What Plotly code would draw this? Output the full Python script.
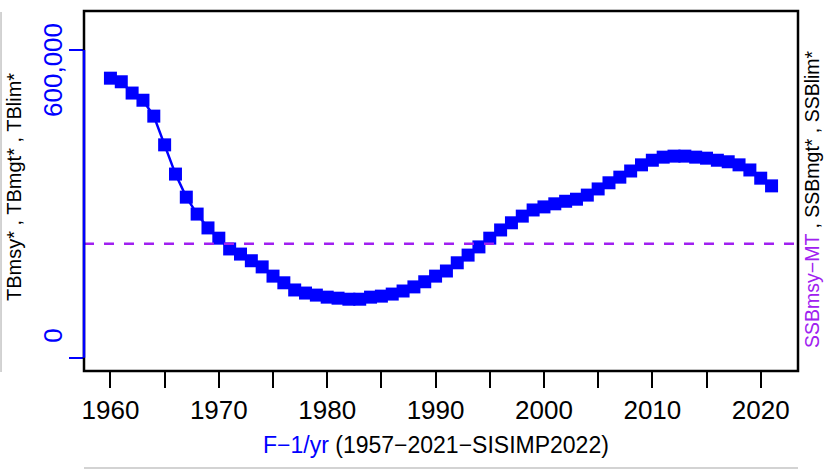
import plotly.graph_objects as go

years = list(range(1960, 2022))
biomass = [545000, 538000, 516000, 502000, 471000, 415000, 358000, 313000, 280000, 253000,
           233000, 212000, 202000, 189000, 177000, 159000, 146000, 132000, 126000, 122000,
           118000, 116000, 114000, 114000, 118000, 120000, 124000, 130000, 138000, 148000,
           159000, 169000, 185000, 200000, 216000, 233000, 249000, 263000, 276000, 288000,
           294000, 300000, 305000, 309000, 317000, 329000, 341000, 352000, 364000, 376000,
           385000, 391000, 393000, 393000, 391000, 389000, 385000, 382000, 376000, 366000,
           350000, 335000]
ref_level = 222000
x_tick_vals = list(range(1960, 2021, 5))
x_tick_text = [str(v) if v % 10 == 0 else "" for v in x_tick_vals]
y_tick_vals = [0, 600000]
y_tick_text = ["0", "600,000"]

FONT = "Liberation Sans, Arial, sans-serif"
BLUE = "#0000FF"
PURPLE = "#A020F0"

fig = go.Figure()
fig.add_trace(go.Scatter(
    x=years, y=biomass, mode="lines+markers",
    line=dict(color=BLUE, width=2.5),
    marker=dict(symbol="square", size=13, color=BLUE, line=dict(width=0)),
    showlegend=False, hoverinfo="skip"))

shapes = [
    dict(type="line", xref="paper", x0=0, x1=1, yref="y", y0=ref_level, y1=ref_level,
         line=dict(color=PURPLE, width=2.5, dash="10px,10px")),
    dict(type="rect", xref="paper", yref="paper", x0=0, x1=1, y0=0, y1=1,
         line=dict(color="black", width=2.5)),
    dict(type="line", xref="paper", x0=0, x1=0, yref="y", y0=y_tick_vals[0], y1=y_tick_vals[-1],
         line=dict(color=BLUE, width=2.5)),
    dict(type="line", xref="paper", yref="paper", x0=-0.1162, x1=-0.1162, y0=-0.003, y1=0.997,
         line=dict(color="#C4C4C4", width=1.5)),
    dict(type="line", xref="paper", yref="paper", x0=0, x1=1, y0=-0.2694, y1=-0.2694,
         line=dict(color="#C4C4C4", width=1.5)),
]

annotations = [
    dict(text="TBmsy* , TBmgt* , TBlim*", xref="paper", yref="paper", x=-0.098, y=0.511,
         textangle=-90, showarrow=False, font=dict(family=FONT, size=20, color="black"),
         xanchor="center", yanchor="middle"),
    dict(text=f"<span style='color:{PURPLE}'>SSBmsy−MT</span> , SSBmgt* , SSBlim*",
         xref="paper", yref="paper", x=1.0196, y=0.478,
         textangle=-90, showarrow=False, font=dict(family=FONT, size=19.5, color="black"),
         xanchor="center", yanchor="middle"),
    dict(text=f"<span style='color:{BLUE}'>F−1/yr</span> (1957−2021−SISIMP2022)",
         xref="paper", yref="paper", x=0.493, y=-0.206,
         showarrow=False, font=dict(family=FONT, size=23, color="black"),
         xanchor="center", yanchor="middle"),
]
# y tick labels (rotated, R style), placed at the tick values
y_label_shift = [22, -20]
for v, t, s in zip(y_tick_vals, y_tick_text, y_label_shift):
    annotations.append(dict(text=t, xref="paper", yref="y", x=0, y=v, xshift=-31, yshift=s,
                            textangle=-90, showarrow=False,
                            font=dict(family=FONT, size=26, color=BLUE),
                            xanchor="center", yanchor="middle"))

fig.update_layout(
    width=833, height=472,
    margin=dict(l=84, r=35, t=11, b=101, autoexpand=False),
    paper_bgcolor="white", plot_bgcolor="white",
    font=dict(family=FONT, color="black"),
    shapes=shapes, annotations=annotations,
    xaxis=dict(range=[1957.56, 2023.44], showgrid=False, zeroline=False, showline=False,
               automargin=False,
               tickmode="array", tickvals=x_tick_vals, ticktext=x_tick_text,
               ticks="outside", ticklen=16, tickwidth=2, tickcolor="black",
               tickfont=dict(family=FONT, size=26, color="black")),
    yaxis=dict(range=[-26000, 676000], showgrid=False, zeroline=False, showline=False,
               automargin=False, showticklabels=False,
               tickmode="array", tickvals=y_tick_vals,
               ticks="outside", ticklen=14, tickwidth=2, tickcolor=BLUE),
)

fig.write_html("out.html", config={"displayModeBar": False})

with open("out.html", "r", encoding="utf-8") as f:
    html = f.read()
html = html.replace("<body>", "<body style=\"margin:0;padding:0;overflow:hidden\">", 1)
with open("out.html", "w", encoding="utf-8") as f:
    f.write(html)
